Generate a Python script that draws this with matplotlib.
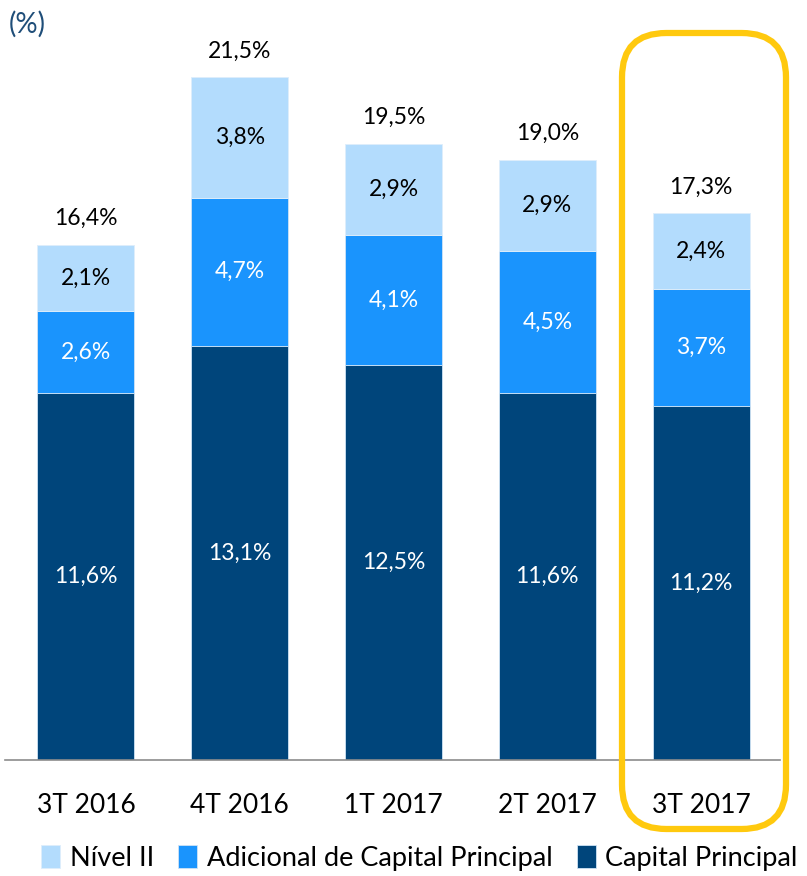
import matplotlib
matplotlib.use("Agg")
import matplotlib.pyplot as plt
from matplotlib.patches import FancyBboxPatch
import numpy as np

# data
quarters = ["3T 2016", "4T 2016", "1T 2017", "2T 2017", "3T 2017"]
capital_principal = [11.6, 13.1, 12.5, 11.6, 11.2]
adicional = [2.6, 4.7, 4.1, 4.5, 3.7]
nivel_2 = [2.1, 3.8, 2.9, 2.9, 2.4]
totals = [16.4, 21.5, 19.5, 19.0, 17.3]

dark = "#00457b"
mid = "#1a94fd"
light = "#b3dcfd"

plt.rcParams['font.family'] = ['Lato', 'DejaVu Sans']

W, H = 807, 876
fig = plt.figure(figsize=(W / 100, H / 100), dpi=100)
# axes from baseline (y=760px) to top of figure
ax = fig.add_axes([5 / W, (H - 760) / H, 775 / W, 760 / H])

x = np.arange(len(quarters))
w = 0.63
cp = np.array(capital_principal)
ad = np.array(adicional)
n2 = np.array(nivel_2)

ax.bar(x, cp, w, color=dark, edgecolor="#cfe3f5", linewidth=0.6, label="Capital Principal")
ax.bar(x, ad, w, bottom=cp, color=mid, edgecolor="#cfe3f5", linewidth=0.6,
       label="Adicional de Capital Principal")
ax.bar(x, n2, w, bottom=cp + ad, color=light, edgecolor="#dfeefb", linewidth=0.6, label="Nível II")

fmt = lambda v: f"{v:.1f}".replace(".", ",") + "%"
fs = 16.5
for i in x:
    ax.text(i, cp[i] / 2, fmt(cp[i]), ha="center", va="center", color="white", fontsize=fs)
    ax.text(i, cp[i] + ad[i] / 2, fmt(ad[i]), ha="center", va="center", color="white", fontsize=fs)
    ax.text(i, cp[i] + ad[i] + n2[i] / 2, fmt(n2[i]), ha="center", va="center", color="black", fontsize=fs)
    ax.text(i, cp[i] + ad[i] + n2[i] + 0.5, fmt(totals[i]), ha="center", va="bottom",
            color="black", fontsize=fs)

ax.set_xlim(-0.526, 4.513)
ax.set_ylim(0, 24.05)
for s in ["top", "right", "left"]:
    ax.spines[s].set_visible(False)
ax.spines["bottom"].set_color("#8c8c8c")
ax.spines["bottom"].set_linewidth(1.2)
ax.set_yticks([])
ax.set_xticks(x)
ax.set_xticklabels(quarters, fontsize=19)
ax.tick_params(axis="x", length=0, pad=24)

fig.text(9 / W, 1 - 24 / H, "(%)", color="#1f4e79", fontsize=20, va="center", ha="left")

handles, labels = ax.get_legend_handles_labels()
leg = fig.legend(handles[::-1], labels[::-1], loc="center", bbox_to_anchor=(0.52, 1 - 858 / H),
                 ncol=3, frameon=False, fontsize=19.5, handlelength=0.7, handleheight=0.9,
                 handletextpad=0.35, columnspacing=0.9, borderpad=0)

# yellow highlight around the last quarter
hl = FancyBboxPatch((622 / W, 1 - 829 / H), 164 / W, 796 / H,
                    boxstyle="round,pad=0,rounding_size=0.055",
                    transform=fig.transFigure, fill=False, edgecolor="#ffc90e",
                    linewidth=4.5, mutation_aspect=W / H)
fig.patches.append(hl)

fig.savefig("out.png", dpi=100)
